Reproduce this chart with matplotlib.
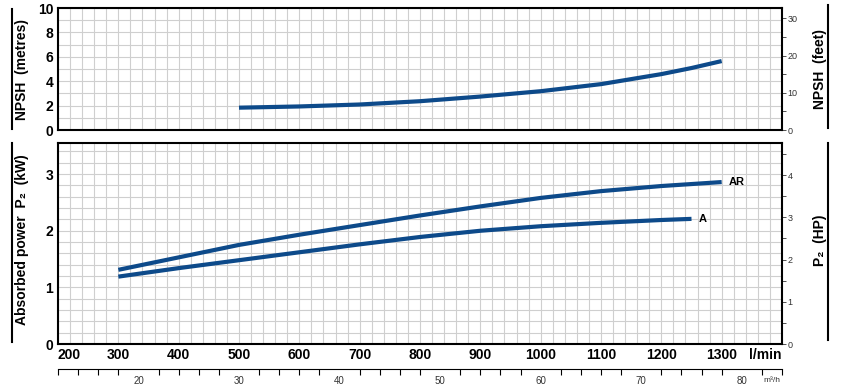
import matplotlib
matplotlib.use("Agg")
import matplotlib.pyplot as plt
from matplotlib.ticker import MultipleLocator, FixedLocator
from matplotlib.lines import Line2D

plt.rcParams['font.family'] = ['Liberation Sans Narrow', 'Liberation Sans', 'DejaVu Sans']

# flow (l/min)
q_npsh = [500, 600, 700, 800, 900, 1000, 1100, 1200, 1250, 1300]
npsh_m = [1.83, 1.93, 2.09, 2.36, 2.74, 3.18, 3.76, 4.58, 5.08, 5.65]

q_ar = [300, 400, 500, 600, 700, 800, 900, 1000, 1100, 1200, 1300]
p2_ar = [1.31, 1.53, 1.75, 1.93, 2.10, 2.27, 2.43, 2.58, 2.70, 2.79, 2.86]

q_a = [300, 400, 500, 600, 700, 800, 900, 1000, 1100, 1200, 1250]
p2_a = [1.19, 1.34, 1.48, 1.62, 1.76, 1.89, 2.00, 2.08, 2.14, 2.19, 2.21]

x_ticks = [200, 300, 400, 500, 600, 700, 800, 900, 1000, 1100, 1200, 1300, 1400]
x_labels = ['200', '300', '400', '500', '600', '700', '800', '900', '1000', '1100', '1200', '1300', 'l/min']
m3h_labels = [20, 30, 40, 50, 60, 70, 80]
ft_labels = [0, 10, 20, 30]
hp_labels = [0, 1, 2, 3, 4]

blue = '#0d4a8a'
grid_col = '#cfcfcf'

fig = plt.figure(figsize=(8.44, 3.9), dpi=100)
ax1 = fig.add_axes([58/844, 260/390, 724/844, 122/390])
ax2 = fig.add_axes([58/844, 46/390, 724/844, 201/390])


def style(ax):
    ax.set_xlim(200, 1400)
    ax.xaxis.set_minor_locator(MultipleLocator(20))
    ax.grid(which='both', color=grid_col, linewidth=0.8)
    ax.set_axisbelow(True)
    for s in ax.spines.values():
        s.set_linewidth(1.5)
    ax.tick_params(which='both', length=0)
    for t in ax.get_yticklabels():
        t.set_fontweight('bold')
        t.set_fontsize(10)


def right_scale(sec, majors, step):
    sec.yaxis.set_major_locator(FixedLocator(majors))
    sec.yaxis.set_minor_locator(FixedLocator([m + step for m in majors]))
    sec.tick_params(which='both', length=3, width=0.6, labelsize=6.5, pad=1,
                    colors='#333333')
    sec.spines['right'].set_visible(False)


# NPSH panel
ax1.plot(q_npsh, npsh_m, color=blue, linewidth=3, solid_capstyle='butt')
ax1.set_ylim(0, 10)
ax1.yaxis.set_major_locator(MultipleLocator(2))
ax1.yaxis.set_minor_locator(MultipleLocator(1))
ax1.set_xticks(x_ticks)
style(ax1)
ax1.set_xticklabels([])

sec1 = ax1.secondary_yaxis('right', functions=(lambda m: m / 0.3048, lambda f: f * 0.3048))
right_scale(sec1, ft_labels, 5)

# power panel
ax2.plot(q_ar, p2_ar, color=blue, linewidth=3, solid_capstyle='butt')
ax2.plot(q_a, p2_a, color=blue, linewidth=3, solid_capstyle='butt')
ax2.annotate('AR', (q_ar[-1], p2_ar[-1]), xytext=(5, 0), textcoords='offset points',
             va='center', fontsize=8, fontweight='bold')
ax2.annotate('A', (q_a[-1], p2_a[-1]), xytext=(5, 0), textcoords='offset points',
             va='center', fontsize=8, fontweight='bold')
ax2.set_ylim(0, 3.55)
ax2.yaxis.set_major_locator(MultipleLocator(1))
ax2.yaxis.set_minor_locator(MultipleLocator(0.2))
ax2.set_xticks(x_ticks)
ax2.set_xticklabels(x_labels)
style(ax2)
ax2.tick_params(axis='x', pad=3)
for i, t in enumerate(ax2.get_xticklabels()):
    t.set_fontweight('bold')
    t.set_fontsize(10)
    if i == 0:
        t.set_ha('left')
    if i == len(x_labels) - 1:
        t.set_ha('right')

sec2 = ax2.secondary_yaxis('right', functions=(lambda kw: kw / 0.7457, lambda hp: hp * 0.7457))
right_scale(sec2, hp_labels, 0.5)

# m3/h scale below
sec3 = ax2.secondary_xaxis(-25/201, functions=(lambda q: q * 0.06, lambda m: m / 0.06))
sec3.xaxis.set_major_locator(FixedLocator(m3h_labels))
sec3.xaxis.set_minor_locator(FixedLocator([v for v in range(12, 85, 2) if v % 10]))
sec3.tick_params(which='major', length=0, labelsize=7, pad=5, colors='#333333')
sec3.tick_params(which='minor', length=4, width=0.8)
sec3.spines['bottom'].set_linewidth(0.8)
fig.text(772/844, 1 - 380/390, 'm³/h', fontsize=6, ha='center', va='center', color='#333333')

# side labels with bars
fig.text(22/844, 1 - 69/390, 'NPSH  (metres)', rotation=90, ha='center', va='center',
         fontsize=10, fontweight='bold')
fig.text(22/844, 1 - 240/390, 'Absorbed power  P₂  (kW)', rotation=90, ha='center', va='center',
         fontsize=10, fontweight='bold')
fig.text(820/844, 1 - 69/390, 'NPSH  (feet)', rotation=90, ha='center', va='center',
         fontsize=10, fontweight='bold')
fig.text(820/844, 1 - 240/390, 'P₂  (HP)', rotation=90, ha='center', va='center',
         fontsize=10, fontweight='bold')
for xpx, y0, y1 in [(12, 9, 129), (12, 143, 342), (828, 5, 128), (828, 143, 340)]:
    fig.add_artist(Line2D([xpx/844, xpx/844], [1 - y0/390, 1 - y1/390],
                          transform=fig.transFigure, color='black', linewidth=1.5))

fig.savefig('out.png', dpi=100)
